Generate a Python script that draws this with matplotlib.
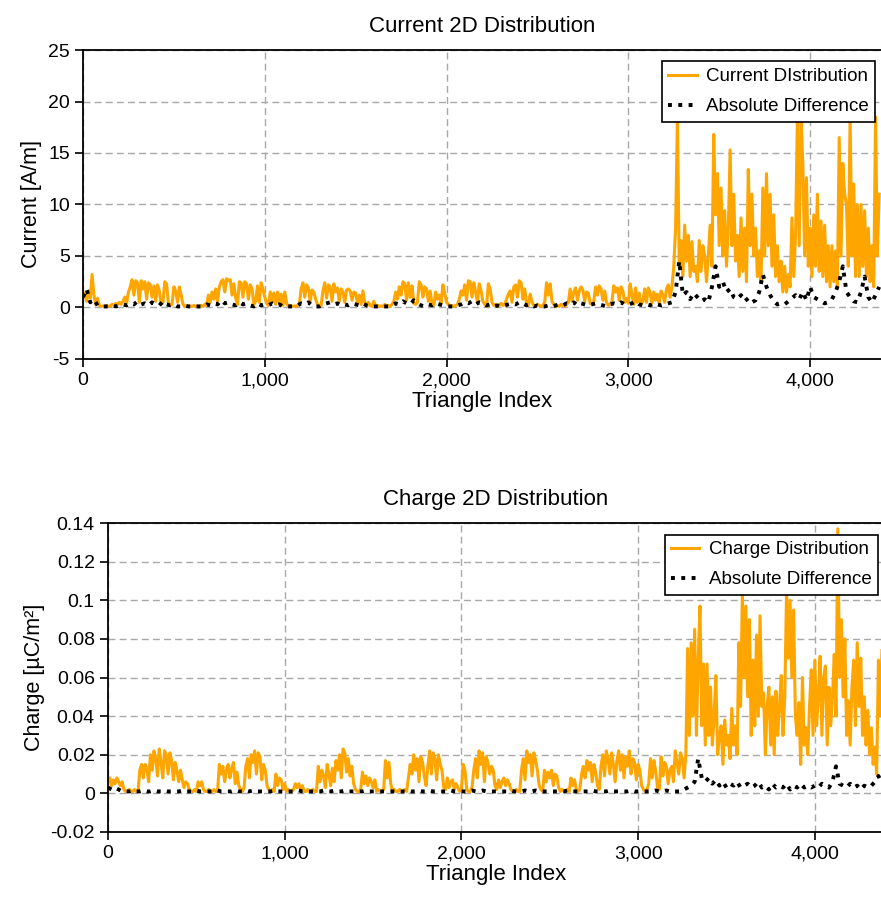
import numpy as np
import matplotlib
matplotlib.use("Agg")
import matplotlib.pyplot as plt
from matplotlib.ticker import StrMethodFormatter, FuncFormatter

plt.rcParams["font.family"] = ["Liberation Sans", "DejaVu Sans"]
plt.rcParams["axes.unicode_minus"] = False

# triangle indices: orange series every 10, black series every 20
idx_fine = np.arange(0, 4390, 10)
idx_coarse = np.arange(0, 4390, 20)

current = [
    1.0, 1.4, 0.6, 1.6, 0.9, 3.2, 1.2, 0.3, 0.9, 0.2, 0.1, 0.15, 0.1, 0.2, 0.1, 0.15, 0.3, 0.2, 0.4, 0.3,
    0.5, 0.3, 0.6, 1.0, 0.4, 1.5, 2.0, 2.7, 1.2, 2.6, 2.4, 0.5, 2.6, 1.8, 2.5, 0.8, 2.4, 2.2, 1.0, 2.1,
    0.6, 2.2, 1.6, 0.3, 0.5, 2.5, 2.3, 0.4, 0.2, 0.3, 2.0, 1.6, 0.5, 2.0, 1.2, 0.3, 0.1, 0.2, 0.1, 0.15,
    0.1, 0.2, 0.1, 0.15, 0.1, 0.2, 0.1, 0.3, 0.2, 1.2, 0.5, 1.5, 0.8, 1.8, 0.6, 2.0, 2.5, 2.7, 1.5, 2.8,
    2.6, 2.7, 1.2, 2.3, 0.9, 0.3, 2.5, 2.4, 1.0, 2.5, 2.3, 0.8, 2.2, 1.8, 0.3, 0.6, 2.1, 0.5, 2.4, 1.8,
    1.0, 0.4, 0.2, 1.5, 0.6, 1.4, 0.3, 1.5, 0.5, 1.3, 0.2, 1.5, 0.4, 0.1, 0.2, 0.1, 0.15, 0.1, 0.2, 0.3,
    1.8, 2.4, 1.0, 2.2, 1.9, 0.6, 1.7, 1.5, 0.8, 0.3, 0.1, 0.2, 1.6, 2.4, 0.9, 2.2, 2.0, 0.6, 2.3, 1.5,
    1.9, 0.6, 1.8, 1.5, 0.5, 1.7, 1.8, 1.6, 0.7, 1.5, 1.4, 0.4, 1.2, 0.3, 1.6, 0.5, 0.1, 0.5, 0.2, 0.1,
    0.6, 0.1, 0.2, 0.1, 0.15, 0.1, 0.3, 0.1, 0.2, 0.1, 0.3, 0.6, 1.5, 0.8, 2.0, 1.2, 2.5, 2.3, 0.7, 2.4,
    1.0, 2.1, 0.4, 0.3, 0.5, 2.5, 2.2, 1.0, 2.0, 1.8, 0.6, 1.6, 0.3, 0.2, 1.5, 0.8, 1.2, 0.4, 2.2, 1.4,
    0.5, 0.3, 0.1, 0.2, 0.1, 0.2, 0.3, 0.8, 1.6, 1.2, 2.2, 0.7, 2.6, 2.5, 1.0, 2.4, 1.5, 0.5, 2.3, 1.6,
    0.6, 0.3, 0.1, 2.3, 1.8, 0.5, 0.2, 0.3, 0.1, 0.2, 0.4, 0.2, 0.3, 0.8, 1.3, 1.6, 0.5, 2.0, 2.2, 1.0,
    2.6, 2.4, 0.8, 1.8, 0.4, 0.2, 1.3, 0.5, 0.2, 0.1, 0.3, 0.2, 0.1, 0.2, 0.5, 2.4, 1.2, 2.3, 0.6, 0.3,
    0.1, 0.2, 0.1, 0.3, 0.2, 0.1, 0.3, 0.5, 1.8, 0.6, 1.5, 1.9, 0.7, 1.6, 2.0, 1.7, 0.6, 1.5, 1.4, 0.4,
    0.3, 0.6, 2.0, 1.2, 2.1, 1.8, 0.7, 1.6, 0.5, 0.2, 0.3, 0.6, 2.1, 1.5, 1.9, 0.7, 2.0, 1.6, 0.5, 0.9,
    0.4, 2.3, 1.2, 0.3, 1.9, 0.5, 1.4, 0.3, 0.6, 1.8, 0.5, 1.9, 1.4, 0.4, 1.5, 0.7, 1.3, 0.4, 1.6, 1.2,
    0.5, 1.8, 2.2, 1.0, 2.0, 4.0, 7.7, 18.5, 4.0, 6.5, 3.0, 8.0, 4.5, 7.0, 3.0, 6.4, 3.5, 4.0, 2.5, 6.5,
    3.5, 6.0, 5.0, 2.5, 5.0, 8.0, 4.0, 16.8, 9.0, 13.0, 6.0, 11.6, 5.0, 9.4, 4.0, 7.7, 15.3, 6.0, 11.0, 4.5,
    7.0, 3.0, 8.7, 3.5, 7.7, 2.5, 13.4, 6.0, 11.0, 5.0, 7.7, 3.0, 5.5, 2.5, 11.6, 5.0, 13.0, 6.0, 11.0, 4.0,
    9.0, 3.0, 6.0, 2.5, 4.5, 1.5, 4.0, 1.5, 3.2, 2.0, 8.7, 3.0, 7.0, 18.5, 6.0, 18.5, 14.0, 5.0, 12.6, 4.0,
    7.7, 3.0, 9.0, 4.0, 11.0, 3.5, 8.4, 3.0, 8.0, 2.5, 6.0, 2.0, 6.0, 2.5, 5.5, 2.0, 16.5, 5.0, 14.0, 11.0,
    10.0, 4.0, 18.5, 5.0, 12.0, 3.0, 10.0, 3.0, 10.0, 4.0, 9.4, 3.0, 7.7, 2.5, 6.0, 2.0, 18.5, 5.0, 11.0,
]

current_diff = [
    1.0, 1.8, 0.5, 0.8, 0.2, 0.1, 0.1, 0.1, 0.2, 0.1, 0.2, 0.3, 0.2, 0.4, 0.3, 0.6, 0.3, 0.4, 0.2, 0.5,
    0.3, 0.2, 0.6, 0.3, 0.2, 0.3, 0.1, 0.1, 0.2, 0.1, 0.1, 0.1, 0.1, 0.1, 0.3, 0.2, 0.4, 0.3, 0.7, 0.4,
    0.5, 0.3, 0.2, 0.5, 0.3, 0.4, 0.2, 0.1, 0.4, 0.2, 0.3, 0.2, 0.4, 0.2, 0.3, 0.1, 0.1, 0.1, 0.1, 0.2,
    0.4, 0.3, 0.5, 0.2, 0.1, 0.1, 0.3, 0.4, 0.5, 0.3, 0.4, 0.2, 0.3, 0.2, 0.4, 0.3, 0.2, 0.4, 0.2, 0.1,
    0.1, 0.1, 0.1, 0.1, 0.1, 0.2, 0.4, 0.3, 0.6, 0.4, 0.3, 0.7, 0.4, 0.2, 0.1, 0.3, 0.2, 0.4, 0.3, 0.2,
    0.1, 0.1, 0.1, 0.2, 0.3, 0.5, 0.4, 0.6, 0.3, 0.5, 0.4, 0.2, 0.3, 0.1, 0.2, 0.1, 0.2, 0.3, 0.4, 0.3,
    0.5, 0.4, 0.2, 0.3, 0.1, 0.2, 0.1, 0.1, 0.2, 0.1, 0.2, 0.3, 0.2, 0.4, 0.3, 0.5, 0.2, 0.4, 0.3, 0.2,
    0.3, 0.4, 0.3, 0.2, 0.1, 0.3, 0.4, 0.3, 0.5, 0.3, 0.3, 0.4, 0.6, 0.3, 0.2, 0.3, 0.2, 0.4, 0.3, 0.2,
    0.3, 0.4, 0.5, 1.5, 4.5, 1.2, 1.5, 0.8, 1.4, 1.0, 0.6, 0.8, 0.5, 2.0, 4.0, 2.0, 2.5, 1.5, 1.8, 1.0,
    0.8, 1.2, 0.6, 0.9, 0.5, 0.7, 1.5, 3.2, 2.0, 1.2, 0.6, 0.3, 0.4, 0.3, 0.6, 0.9, 1.2, 0.8, 1.5, 0.7,
    2.0, 1.0, 0.8, 0.6, 0.4, 0.5, 0.8, 1.5, 2.5, 4.0, 1.5, 1.0, 0.6, 0.5, 1.5, 3.0, 1.0, 0.5, 1.2, 2.0,
]

charge = [
    0.006, 0.008, 0.004, 0.007, 0.005, 0.008, 0.006, 0.004, 0.006, 0.002,
    0.001, 0.001, 0.002, 0.001, 0.001, 0.002, 0.001, 0.001, 0.012, 0.015,
    0.008, 0.015, 0.013, 0.006, 0.020, 0.012, 0.022, 0.018, 0.009, 0.023, 0.016, 0.008, 0.022, 0.020, 0.010, 0.021, 0.017, 0.007, 0.016, 0.012,
    0.006, 0.012, 0.007, 0.003, 0.006, 0.005, 0.002, 0.001, 0.001, 0.002, 0.001, 0.006, 0.004, 0.006, 0.002, 0.001, 0.001, 0.002, 0.001, 0.001,
    0.002, 0.001, 0.001, 0.015, 0.010, 0.014, 0.006, 0.012, 0.015, 0.008, 0.013, 0.016, 0.005, 0.011, 0.004, 0.002, 0.001, 0.003, 0.014, 0.018,
    0.008, 0.020, 0.016, 0.022, 0.010, 0.021, 0.019, 0.007, 0.015, 0.012, 0.004, 0.002, 0.001, 0.002, 0.001, 0.010, 0.004, 0.008, 0.007, 0.002,
    0.005, 0.001, 0.002, 0.001, 0.001, 0.002, 0.005, 0.003, 0.005, 0.002, 0.004, 0.001, 0.001, 0.002, 0.001, 0.001, 0.002, 0.001, 0.001, 0.014,
    0.006, 0.012, 0.009, 0.003, 0.015, 0.010, 0.004, 0.013, 0.006, 0.017, 0.012, 0.020, 0.008, 0.023, 0.021, 0.011, 0.018, 0.009, 0.014, 0.005,
    0.002, 0.001, 0.001, 0.002, 0.011, 0.005, 0.009, 0.004, 0.008, 0.006, 0.003, 0.007, 0.001, 0.002, 0.001, 0.001, 0.002, 0.017, 0.008, 0.016,
    0.005, 0.001, 0.002, 0.001, 0.001, 0.002, 0.001, 0.001, 0.002, 0.001, 0.008, 0.015, 0.010, 0.020, 0.012, 0.018, 0.006, 0.019, 0.016, 0.009,
    0.004, 0.014, 0.022, 0.010, 0.021, 0.018, 0.007, 0.020, 0.015, 0.012, 0.003, 0.002, 0.008, 0.003, 0.006, 0.007, 0.002, 0.005, 0.003, 0.001,
    0.002, 0.015, 0.012, 0.002, 0.001, 0.001, 0.003, 0.012, 0.018, 0.008, 0.022, 0.015, 0.021, 0.006, 0.019, 0.016, 0.010, 0.014, 0.012, 0.004,
    0.002, 0.007, 0.003, 0.006, 0.008, 0.004, 0.007, 0.005, 0.002, 0.001, 0.001, 0.002, 0.001, 0.001, 0.012, 0.018, 0.007, 0.022, 0.016, 0.020,
    0.009, 0.021, 0.017, 0.012, 0.004, 0.002, 0.001, 0.012, 0.006, 0.011, 0.008, 0.012, 0.004, 0.010, 0.009, 0.003, 0.001, 0.002, 0.001, 0.001,
    0.002, 0.001, 0.008, 0.004, 0.007, 0.002, 0.001, 0.002, 0.010, 0.014, 0.008, 0.017, 0.012, 0.016, 0.006, 0.015, 0.011, 0.004, 0.002, 0.014,
    0.020, 0.009, 0.022, 0.018, 0.010, 0.021, 0.015, 0.006, 0.017, 0.022, 0.012, 0.020, 0.008, 0.019, 0.014, 0.022, 0.010, 0.018, 0.016, 0.007,
    0.015, 0.012, 0.004, 0.002, 0.001, 0.002, 0.005, 0.018, 0.008, 0.017, 0.011, 0.003, 0.002, 0.019, 0.009, 0.016, 0.014, 0.005, 0.012, 0.014,
    0.006, 0.022, 0.016, 0.010, 0.021, 0.018, 0.008, 0.020, 0.075, 0.030, 0.078, 0.040, 0.085, 0.030, 0.069, 0.097, 0.035, 0.067, 0.025, 0.067,
    0.030, 0.055, 0.025, 0.040, 0.061, 0.020, 0.030, 0.035, 0.015, 0.038, 0.025, 0.030, 0.018, 0.044, 0.025, 0.035, 0.020, 0.078, 0.045, 0.104,
    0.060, 0.097, 0.050, 0.090, 0.030, 0.069, 0.035, 0.082, 0.040, 0.092, 0.045, 0.052, 0.020, 0.045, 0.055, 0.025, 0.050, 0.020, 0.053, 0.030,
    0.045, 0.061, 0.030, 0.050, 0.104, 0.070, 0.100, 0.060, 0.095, 0.040, 0.030, 0.047, 0.015, 0.060, 0.025, 0.034, 0.020, 0.045, 0.064, 0.030,
    0.069, 0.035, 0.050, 0.071, 0.030, 0.060, 0.066, 0.025, 0.055, 0.035, 0.050, 0.072, 0.040, 0.137, 0.060, 0.090, 0.050, 0.080, 0.030, 0.048,
    0.025, 0.055, 0.069, 0.035, 0.078, 0.045, 0.070, 0.030, 0.050, 0.025, 0.043, 0.020, 0.034, 0.015, 0.024, 0.010, 0.069, 0.040, 0.074,
]

charge_diff = [
    0.003, 0.002, 0.003, 0.002, 0.001, 0.001, 0.001, 0.0015, 0.001, 0.001, 0.0015, 0.001, 0.001, 0.0015, 0.001, 0.001, 0.0015, 0.001, 0.001, 0.001,
    0.001, 0.0015, 0.001, 0.001, 0.001, 0.0015, 0.001, 0.001, 0.001, 0.001, 0.001, 0.0015, 0.001, 0.001, 0.001, 0.001, 0.0015, 0.001, 0.001, 0.0015,
    0.001, 0.0015, 0.001, 0.001, 0.001, 0.001, 0.001, 0.0015, 0.001, 0.001, 0.001, 0.001, 0.001, 0.001, 0.0015, 0.001, 0.001, 0.001, 0.001, 0.001,
    0.001, 0.0015, 0.001, 0.001, 0.0015, 0.001, 0.001, 0.0015, 0.001, 0.001, 0.001, 0.001, 0.001, 0.0015, 0.001, 0.001, 0.001, 0.001, 0.001, 0.001,
    0.001, 0.001, 0.001, 0.001, 0.001, 0.0015, 0.001, 0.001, 0.0015, 0.001, 0.001, 0.0015, 0.001, 0.001, 0.001, 0.001, 0.001, 0.0015, 0.001, 0.001,
    0.001, 0.001, 0.001, 0.0015, 0.001, 0.001, 0.0015, 0.001, 0.001, 0.001, 0.001, 0.001, 0.001, 0.001, 0.0015, 0.001, 0.001, 0.001, 0.0015, 0.001,
    0.001, 0.0015, 0.001, 0.001, 0.001, 0.001, 0.001, 0.001, 0.001, 0.001, 0.0015, 0.001, 0.001, 0.001, 0.001, 0.001, 0.001, 0.0015, 0.001, 0.001,
    0.001, 0.001, 0.0015, 0.001, 0.001, 0.001, 0.001, 0.001, 0.0015, 0.001, 0.001, 0.001, 0.001, 0.001, 0.001, 0.0015, 0.001, 0.001, 0.0015, 0.001,
    0.001, 0.001, 0.001, 0.002, 0.003, 0.004, 0.006, 0.018, 0.008, 0.006, 0.008, 0.005, 0.007, 0.004, 0.006, 0.003, 0.005, 0.004, 0.006, 0.003,
    0.004, 0.005, 0.003, 0.004, 0.006, 0.003, 0.004, 0.002, 0.005, 0.003, 0.004, 0.003, 0.005, 0.002, 0.004, 0.003, 0.005, 0.003, 0.004, 0.003,
    0.004, 0.003, 0.005, 0.004, 0.003, 0.006, 0.014, 0.005, 0.004, 0.003, 0.005, 0.003, 0.004, 0.002, 0.004, 0.003, 0.004, 0.006, 0.009, 0.005,
]

orange = "#FFA500"
grid_kw = dict(color="#a8a8a8", linestyle=(0, (5, 3)), linewidth=1.0)

fig = plt.figure(figsize=(8.81, 9.06), dpi=100)
ax1 = fig.add_axes([0.0942, 0.6038, 0.9058, 0.341])
ax2 = fig.add_axes([0.1226, 0.0817, 0.8805, 0.341])


def style_axes(ax):
    ax.grid(True, **grid_kw)
    ax.set_axisbelow(True)
    ax.spines["right"].set_visible(False)
    for s in ("left", "bottom", "top"):
        ax.spines[s].set_linewidth(1.3)
    ax.tick_params(direction="out", length=6, width=1.2, labelsize=14, top=False, right=False)
    ax.xaxis.set_major_formatter(StrMethodFormatter("{x:,.0f}"))
    ax.set_xlim(0, 4390)
    ax.set_xticks([0, 1000, 2000, 3000, 4000])
    ax.set_xlabel("Triangle Index", fontsize=16, labelpad=1)


ax1.plot(idx_fine, current, color=orange, linewidth=2.2, label="Current DIstribution")
ax1.plot(idx_coarse, current_diff, color="black", linestyle=":", linewidth=2.8, label="Absolute Difference")
style_axes(ax1)
ax1.set_ylim(-5, 25)
ax1.set_yticks([-5, 0, 5, 10, 15, 20, 25])
ax1.set_ylabel("Current [A/m]", fontsize=15.5, labelpad=4)
ax1.set_title("Current 2D Distribution", fontsize=16, pad=13)

ax2.plot(idx_fine, charge, color=orange, linewidth=2.2, label="Charge Distribution")
ax2.plot(idx_coarse, charge_diff, color="black", linestyle=":", linewidth=2.8, label="Absolute Difference")
style_axes(ax2)
ax2.set_ylim(-0.02, 0.14)
ax2.set_yticks([-0.02, 0, 0.02, 0.04, 0.06, 0.08, 0.1, 0.12, 0.14])
ax2.yaxis.set_major_formatter(FuncFormatter(lambda v, p: f"{v:g}"))
ax2.set_ylabel("Charge [µC/m²]", fontsize=15.5, labelpad=4)
ax2.set_title("Charge 2D Distribution", fontsize=16, pad=13)

for ax in (ax1, ax2):
    leg = ax.legend(loc="upper right", bbox_to_anchor=(0.9975, 0.975), fontsize=13.5, frameon=True,
                    fancybox=False, edgecolor="black", framealpha=1, borderpad=0.35,
                    handlelength=1.5, handletextpad=0.5, labelspacing=0.7, borderaxespad=0.2)
    leg.get_frame().set_linewidth(1.2)

fig.savefig("out.png", dpi=100)
